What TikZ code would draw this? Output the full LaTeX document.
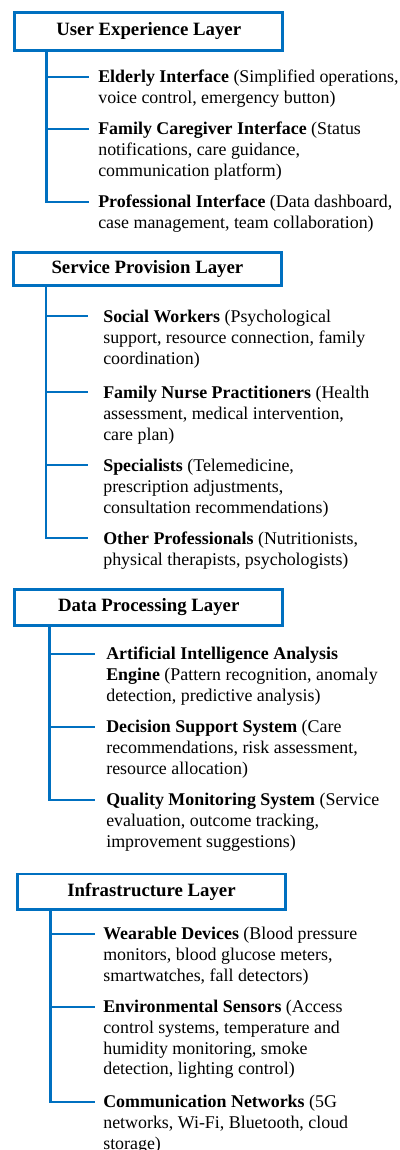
\documentclass[tikz,border=0pt]{standalone}
\usepackage{fontspec}
\setmainfont{Liberation Serif}
\definecolor{layerblue}{RGB}{0,112,192}

\tikzset{every picture/.style={line width=2.6pt}}
\tikzset{
  layer/.style={draw=layerblue, minimum width=268pt, inner sep=0pt,
    font=\fontsize{18.8}{21}\selectfont\bfseries},
  item/.style={anchor=north west, align=left, inner sep=0pt,
    font=\fontsize{17.9}{20.7}\selectfont, execute at begin node=\strut},
  branch/.style={draw=layerblue, line width=2.6pt}
}

\begin{document}
\begin{tikzpicture}[x=1pt,y=1pt,yscale=-1,xscale=1]
\useasboundingbox (0,0) rectangle (399,1150);

%Shape: Rectangle (user experience)
\node [layer, minimum height=38pt] (ue) at (148.7,31.5) {User Experience Layer};
\coordinate (uet) at ([xshift=33pt]ue.south west);
% Text Node
\node [item] (ue1) at (97,69) {\textbf{Elderly Interface} (Simplified operations,\\voice control, emergency button)};
% Text Node
\node [item] (ue2) at (97,121) {\textbf{Family Caregiver Interface} (Status\\notifications, care guidance,\\communication platform)};
% Text Node
\node [item] (ue3) at (97,194) {\textbf{Professional Interface} (Data dashboard,\\case management, team collaboration)};
%Straight Lines
\foreach \i in {1,2,3}
  \draw [branch, shorten >=8pt] (uet) |- ([yshift=8pt]ue\i.north west);

%Shape: Rectangle (service provision)
\node [layer, minimum height=33pt] (sp) at (147.4,269) {Service Provision Layer};
\coordinate (spt) at ([xshift=34pt]sp.south west);
% Text Node
\node [item] (sp1) at (102,309) {\textbf{Social Workers} (Psychological\\support, resource connection, family\\coordination)};
% Text Node
\node [item] (sp2) at (102,385) {\textbf{Family Nurse Practitioners} (Health\\assessment, medical intervention,\\care plan)};
% Text Node
\node [item] (sp3) at (102,458) {\textbf{Specialists} (Telemedicine,\\prescription adjustments,\\consultation recommendations)};
% Text Node
\node [item] (sp4) at (102,531) {\textbf{Other Professionals} (Nutritionists,\\physical therapists, psychologists)};
%Straight Lines
\foreach \i in {1,...,4}
  \draw [branch, shorten >=14pt] (spt) |- ([yshift=7pt]sp\i.north west);

%Shape: Rectangle (data processing)
\node [layer, minimum height=35.6pt] (dp) at (148.7,607.5) {Data Processing Layer};
\coordinate (dpt) at ([xshift=36.3pt]dp.south west);
% Text Node
\node [item] (dp1) at (105,646) {\textbf{Artificial Intelligence Analysis}\\\textbf{Engine} (Pattern recognition, anomaly\\detection, predictive analysis)};
% Text Node
\node [item] (dp2) at (105,719) {\textbf{Decision Support System} (Care\\recommendations, risk assessment,\\resource allocation)};
% Text Node
\node [item] (dp3) at (105,792) {\textbf{Quality Monitoring System} (Service\\evaluation, outcome tracking,\\improvement suggestions)};
%Straight Lines
\foreach \i in {1,2,3}
  \draw [branch, shorten >=10pt] (dpt) |- ([yshift=8pt]dp\i.north west);

%Shape: Rectangle (infrastructure)
\node [layer, minimum height=35.3pt] (in) at (151.5,891.7) {Infrastructure Layer};
\coordinate (int) at ([xshift=34.3pt]in.south west);
% Text Node
\node [item] (in1) at (102,926) {\textbf{Wearable Devices} (Blood pressure\\monitors, blood glucose meters,\\smartwatches, fall detectors)};
% Text Node
\node [item] (in2) at (102,999) {\textbf{Environmental Sensors} (Access\\control systems, temperature and\\humidity monitoring, smoke\\detection, lighting control)};
% Text Node
\node [item] (in3) at (102,1094) {\textbf{Communication Networks} (5G\\networks, Wi-Fi, Bluetooth, cloud\\storage)};
%Straight Lines
\foreach \i in {1,2,3}
  \draw [branch, shorten >=7pt] (int) |- ([yshift=8pt]in\i.north west);

\end{tikzpicture}
\end{document}
